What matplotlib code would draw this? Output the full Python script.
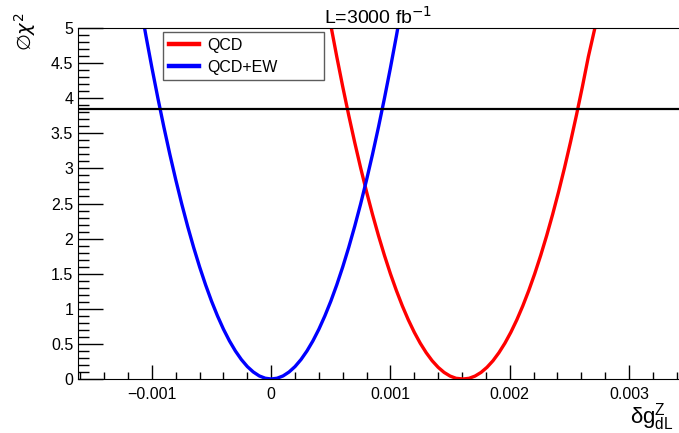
import matplotlib.pyplot as plt
from matplotlib.ticker import MultipleLocator

plt.rcParams['font.family'] = ['Liberation Sans', 'DejaVu Sans']

# curves (x = delta g, y = delta chi^2)
qcd_ew_x = [-0.00110, -0.00105, -0.00100, -0.00095, -0.00090, -0.00085, -0.00080, -0.00075,
            -0.00070, -0.00065, -0.00060, -0.00055, -0.00050, -0.00045, -0.00040, -0.00035,
            -0.00030, -0.00025, -0.00020, -0.00015, -0.00010, -0.00005, 0.0,
            0.00005, 0.00010, 0.00015, 0.00020, 0.00025, 0.00030, 0.00035, 0.00040,
            0.00045, 0.00050, 0.00055, 0.00060, 0.00065, 0.00070, 0.00075, 0.00080,
            0.00085, 0.00090, 0.00095, 0.00100, 0.00105, 0.00110]
qcd_ew_y = [5.363, 4.886, 4.432, 4.000, 3.590, 3.202, 2.837, 2.493,
            2.172, 1.873, 1.596, 1.341, 1.108, 0.898, 0.709, 0.543,
            0.399, 0.277, 0.177, 0.100, 0.044, 0.011, 0.0,
            0.011, 0.044, 0.100, 0.177, 0.277, 0.399, 0.543, 0.709,
            0.898, 1.108, 1.341, 1.596, 1.873, 2.172, 2.493, 2.837,
            3.202, 3.590, 4.000, 4.432, 4.886, 5.363]

qcd_x = [0.00050, 0.00055, 0.00060, 0.00065, 0.00070, 0.00075, 0.00080, 0.00085,
         0.00090, 0.00095, 0.00100, 0.00105, 0.00110, 0.00115, 0.00120, 0.00125,
         0.00130, 0.00135, 0.00140, 0.00145, 0.00150, 0.00155, 0.00161,
         0.00166, 0.00171, 0.00176, 0.00181, 0.00186, 0.00191, 0.00196, 0.00201,
         0.00206, 0.00211, 0.00216, 0.00221, 0.00226, 0.00231, 0.00236, 0.00241,
         0.00246, 0.00251, 0.00256, 0.00261, 0.00266, 0.00272]
qcd_y = [5.040, 4.592, 4.165, 3.759, 3.374, 3.009, 2.666, 2.343,
         2.041, 1.760, 1.499, 1.260, 1.041, 0.843, 0.666, 0.510,
         0.375, 0.260, 0.167, 0.094, 0.042, 0.010, 0.0,
         0.010, 0.042, 0.094, 0.167, 0.260, 0.375, 0.510, 0.666,
         0.843, 1.041, 1.260, 1.499, 1.760, 2.041, 2.343, 2.666,
         3.009, 3.374, 3.759, 4.165, 4.592, 5.040]

cl95 = 3.84

fig = plt.figure(figsize=(6.79, 4.33), dpi=100)
ax = fig.add_axes([78/679, 54/433, 601/679, 351/433])

ax.plot(qcd_x, qcd_y, color='#ff0000', lw=2.4, label='QCD', solid_joinstyle='round')
ax.plot(qcd_ew_x, qcd_ew_y, color='#0000ff', lw=2.4, label='QCD+EW', solid_joinstyle='round')
ax.axhline(cl95, color='black', lw=1.6)

ax.set_xlim(-0.00162, 0.00342)
ax.set_ylim(0, 5)

ax.xaxis.set_major_locator(MultipleLocator(0.001))
ax.xaxis.set_minor_locator(MultipleLocator(0.0002))
ax.yaxis.set_major_locator(MultipleLocator(0.5))
ax.yaxis.set_minor_locator(MultipleLocator(0.1))
ax.xaxis.set_major_formatter(plt.FuncFormatter(
    lambda v, p: '0' if abs(v) < 1e-9 else ('%g' % v).replace('-', '\u2212')))
ax.yaxis.set_major_formatter(plt.FuncFormatter(lambda v, p: '%g' % v))
ax.tick_params(which='both', direction='in', top=False, right=False, labelsize=11.5)
ax.tick_params(axis='x', which='major', length=10, width=1, pad=6)
ax.tick_params(axis='x', which='minor', length=5, width=1)
ax.tick_params(axis='y', which='major', length=18, width=1)
ax.tick_params(axis='y', which='minor', length=8, width=1)
ax.spines['right'].set_visible(False)

ax.set_title('L=3000 fb$^{-1}$', fontsize=14, pad=3)
fig.text(0.037, 0.972, '\u2205$\\chi^2$', rotation=90, fontsize=14, ha='center', va='top',
         family=['DejaVu Sans'])
fig.text(0.992, 0.0, '$\\mathregular{\\delta g^{Z}_{dL}}$', fontsize=16, ha='right', va='bottom')

leg = ax.legend(loc='upper left', bbox_to_anchor=(85/601, 1 - 48/351, 161/601, 44/351),
                mode='expand', fontsize=11.5, frameon=True, fancybox=False,
                edgecolor='#333333', handlelength=1.9, handletextpad=0.5,
                borderpad=0.35, labelspacing=0.45, borderaxespad=0)
leg.get_frame().set_linewidth(1)
for line in leg.get_lines():
    line.set_linewidth(3.2)

fig.savefig('out.png', dpi=100)
